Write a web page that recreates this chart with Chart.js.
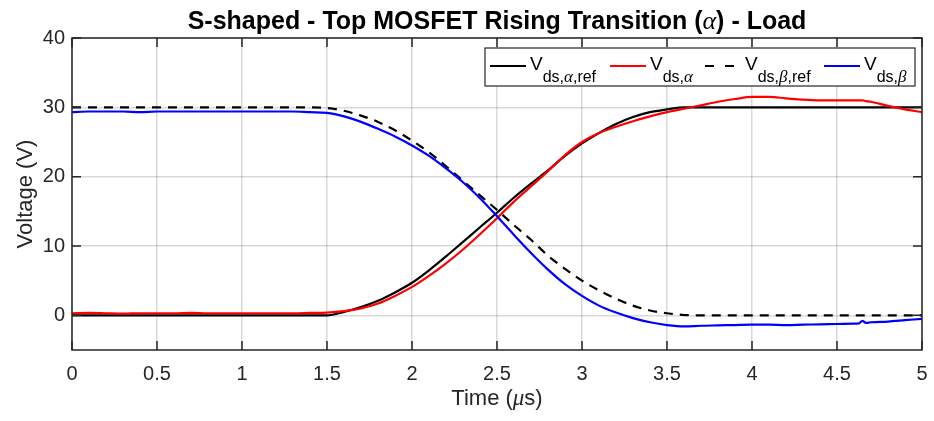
<!DOCTYPE html>
<html>
<head>
<meta charset="utf-8">
<script src="https://cdn.jsdelivr.net/npm/chart.js@4.4.0/dist/chart.umd.min.js"></script>
<style>
  html, body { margin: 0; padding: 0; background: #fff; }
  #wrap { width: 934px; height: 421px; }
</style>
</head>
<body>
<div id="wrap"><canvas id="lineChart" width="934" height="421"></canvas></div>
<script>
// time axis (microseconds)
var timeUs = [0, 0.1, 0.2, 0.3, 0.4, 0.5, 0.6, 0.7, 0.8, 0.9, 1.0, 1.1, 1.2, 1.3, 1.4, 1.5,
  1.6, 1.7, 1.8, 1.9, 2.0, 2.1, 2.2, 2.3, 2.4, 2.5, 2.6, 2.7, 2.8, 2.9, 3.0, 3.1, 3.2, 3.3, 3.4, 3.5, 3.6,
  3.7, 3.8, 3.9, 4.0, 4.1, 4.2, 4.3, 4.4, 4.5, 4.6, 4.63, 4.65, 4.67, 4.7, 4.8, 4.9, 5.0];

// reference and measured drain-source voltages (V)
var vdsAlphaRef = [0, 0, 0, 0, 0, 0, 0, 0, 0, 0, 0, 0, 0, 0, 0, 0,
  0.5, 1.2, 2.1, 3.3, 4.7, 6.5, 8.5, 10.6, 12.7, 14.8, 17.0, 19.0, 20.9, 23.0, 24.8, 26.3, 27.6, 28.6, 29.3, 29.7, 30,
  30, 30, 30, 30, 30, 30, 30, 30, 30, 30, 30, 30, 30, 30, 30, 30, 30];

var vdsAlpha = [0.3, 0.35, 0.3, 0.25, 0.3, 0.3, 0.3, 0.35, 0.3, 0.3, 0.3, 0.3, 0.3, 0.3, 0.35, 0.4,
  0.6, 1.0, 1.7, 2.8, 4.1, 5.7, 7.5, 9.5, 11.7, 14.0, 16.4, 18.6, 20.8, 23.1, 25.0, 26.3, 27.2, 28.0, 28.7, 29.3, 29.8,
  30.3, 30.8, 31.2, 31.5, 31.5, 31.3, 31.1, 31.0, 31.0, 31.0, 31.0, 31.0, 30.9, 30.8, 30.2, 29.7, 29.3];

var vdsBetaRef = [30, 30, 30, 30, 30, 30, 30, 30, 30, 30, 30, 30, 30, 30, 30, 29.9,
  29.5, 28.8, 27.9, 26.7, 25.2, 23.5, 21.5, 19.4, 17.3, 15.2, 13.0, 10.9, 8.6, 6.7, 5.0, 3.6, 2.4, 1.4, 0.7, 0.3, 0.05,
  0, 0, 0, 0, 0, 0, 0, 0, 0, 0, 0, 0, 0, 0, 0, 0, 0];

var vdsBeta = [29.3, 29.4, 29.4, 29.4, 29.3, 29.4, 29.4, 29.4, 29.4, 29.4, 29.4, 29.4, 29.4, 29.4, 29.3, 29.2,
  28.7, 27.9, 26.9, 25.8, 24.5, 23.0, 21.2, 19.2, 16.9, 14.3, 11.6, 9.0, 6.6, 4.5, 2.8, 1.4, 0.4, -0.4, -1.0, -1.4, -1.6,
  -1.5, -1.45, -1.4, -1.35, -1.35, -1.4, -1.35, -1.3, -1.25, -1.2, -1.15, -0.8, -1.1, -1.0, -0.9, -0.7, -0.5];

var xTickValues = [0, 0.5, 1, 1.5, 2, 2.5, 3, 3.5, 4, 4.5, 5];
var yTickValues = [0, 10, 20, 30, 40];

// legend entries: sample line start, colour, dash, subscript pieces (greek drawn in italic serif)
var legendItems = [
  { x: 490, color: '#000000', dash: [], sub: ['ds,', '\u03B1', ',ref'] },
  { x: 610, color: '#ff0000', dash: [], sub: ['ds,', '\u03B1'] },
  { x: 705, color: '#000000', dash: [9, 11], sub: ['ds,', '\u03B2', ',ref'] },
  { x: 824, color: '#0000ff', dash: [], sub: ['ds,', '\u03B2'] }
];

var axisColor = '#262626';
var sansFont = '"Liberation Sans", Arial, Helvetica, sans-serif';
var greekFont = '"Liberation Serif", "Times New Roman", serif';

function pts(ys) {
  return timeUs.map(function (t, i) { return { x: t, y: ys[i] }; });
}

function isGreek(s) { return s === '\u03B1' || s === '\u03B2' || s === '\u03BC'; }

function pieceFont(p, size, weight) {
  return isGreek(p) ? 'italic ' + (size + 1) + 'px ' + greekFont : (weight || '') + ' ' + size + 'px ' + sansFont;
}

// draw a run of text pieces, greek letters in italic serif
function drawPieces(ctx, pieces, x, y, size, weight) {
  pieces.forEach(function (p) {
    ctx.font = pieceFont(p, size, weight);
    ctx.fillText(p, x, y);
    x += ctx.measureText(p).width;
  });
  return x;
}

function piecesWidth(ctx, pieces, size, weight) {
  var w = 0;
  pieces.forEach(function (p) {
    ctx.font = pieceFont(p, size, weight);
    w += ctx.measureText(p).width;
  });
  return w;
}

var decorations = {
  id: 'decorations',
  afterDraw: function (chart) {
    var ctx = chart.ctx;
    var a = chart.chartArea;
    var xs = chart.scales.x, ys = chart.scales.y;
    ctx.save();

    // axes box with inward ticks on all four sides
    ctx.strokeStyle = axisColor;
    ctx.lineWidth = 1.5;
    ctx.setLineDash([]);
    ctx.strokeRect(a.left, a.top, a.right - a.left, a.bottom - a.top);
    ctx.beginPath();
    xTickValues.forEach(function (v) {
      var px = xs.getPixelForValue(v);
      ctx.moveTo(px, a.bottom); ctx.lineTo(px, a.bottom - 9);
      ctx.moveTo(px, a.top); ctx.lineTo(px, a.top + 9);
    });
    yTickValues.forEach(function (v) {
      var py = ys.getPixelForValue(v);
      ctx.moveTo(a.left, py); ctx.lineTo(a.left + 9, py);
      ctx.moveTo(a.right, py); ctx.lineTo(a.right - 9, py);
    });
    ctx.stroke();

    // title
    ctx.fillStyle = '#000';
    ctx.textBaseline = 'alphabetic';
    var tParts = ['S-shaped - Top MOSFET Rising Transition (', '\u03B1', ') - Load'];
    var tw = piecesWidth(ctx, tParts, 25, 'bold');
    drawPieces(ctx, tParts, (a.left + a.right) / 2 - tw / 2, 29, 25, 'bold');

    // x axis title
    ctx.fillStyle = axisColor;
    var xParts = ['Time (', '\u03BC', 's)'];
    var xw = piecesWidth(ctx, xParts, 22);
    drawPieces(ctx, xParts, (a.left + a.right) / 2 - xw / 2, 405, 22);

    // y axis title
    ctx.save();
    ctx.translate(32, (a.top + a.bottom) / 2);
    ctx.rotate(-Math.PI / 2);
    ctx.font = '22px ' + sansFont;
    ctx.textAlign = 'center';
    ctx.fillText('Voltage (V)', 0, 0);
    ctx.restore();

    // legend box
    var lx = 485, ly = 48, lw = 430, lh = 38;
    ctx.fillStyle = '#fff';
    ctx.fillRect(lx, ly, lw, lh);
    ctx.strokeStyle = axisColor;
    ctx.lineWidth = 1.2;
    ctx.strokeRect(lx, ly, lw, lh);

    var lineY = ly + 18;
    legendItems.forEach(function (it) {
      ctx.strokeStyle = it.color;
      ctx.lineWidth = 2;
      ctx.setLineDash(it.dash);
      ctx.beginPath();
      ctx.moveTo(it.x, lineY); ctx.lineTo(it.x + 36, lineY);
      ctx.stroke();
      ctx.setLineDash([]);
      var cx = it.x + 40;
      ctx.fillStyle = '#000';
      ctx.font = '19px ' + sansFont;
      ctx.fillText('V', cx, ly + 22);
      cx += ctx.measureText('V').width;
      drawPieces(ctx, it.sub, cx, ly + 34, 16);
    });

    ctx.restore();
  }
};

var ctx = document.getElementById('lineChart').getContext('2d');
Chart.defaults.font.family = sansFont;
Chart.defaults.color = axisColor;

var lineChart = new Chart(ctx, {
  type: 'line',
  data: {
    datasets: [
      { label: 'Vds,alpha,ref', data: pts(vdsAlphaRef), borderColor: '#000000', order: 4 },
      { label: 'Vds,alpha', data: pts(vdsAlpha), borderColor: '#ff0000', order: 3 },
      { label: 'Vds,beta,ref', data: pts(vdsBetaRef), borderColor: '#000000', borderDash: [9, 7], order: 2 },
      { label: 'Vds,beta', data: pts(vdsBeta), borderColor: '#0000ff', order: 1 }
    ]
  },
  options: {
    responsive: false,
    animation: false,
    layout: { padding: { top: 38, right: 12, left: 0, bottom: 0 } },
    elements: {
      point: { radius: 0 },
      line: { borderWidth: 2.2, cubicInterpolationMode: 'monotone', fill: false }
    },
    plugins: {
      legend: { display: false },
      title: { display: false },
      tooltip: { enabled: false }
    },
    scales: {
      x: {
        type: 'linear',
        min: 0,
        max: 5,
        afterFit: function (s) {
          s.height = 71;
          s.paddingLeft = 0;
          s.paddingRight = 0;
        },
        afterBuildTicks: function (s) { s.ticks = xTickValues.map(function (v) { return { value: v }; }); },
        grid: { color: 'rgba(0,0,0,0.15)', lineWidth: 1.5, drawTicks: false },
        border: { display: false },
        ticks: {
          padding: 12, color: axisColor, font: { size: 20 }, maxRotation: 0,
          callback: function (v) { return String(v); }
        }
      },
      y: {
        type: 'linear',
        min: -5,
        max: 40,
        afterFit: function (s) {
          s.width = 72;
          s.paddingTop = 0;
          s.paddingBottom = 0;
        },
        afterBuildTicks: function (s) { s.ticks = yTickValues.map(function (v) { return { value: v }; }); },
        grid: { color: 'rgba(0,0,0,0.15)', lineWidth: 1.5, drawTicks: false },
        border: { display: false },
        ticks: { padding: 7, color: axisColor, font: { size: 20 } }
      }
    }
  },
  plugins: [decorations]
});
</script>
</body>
</html>
